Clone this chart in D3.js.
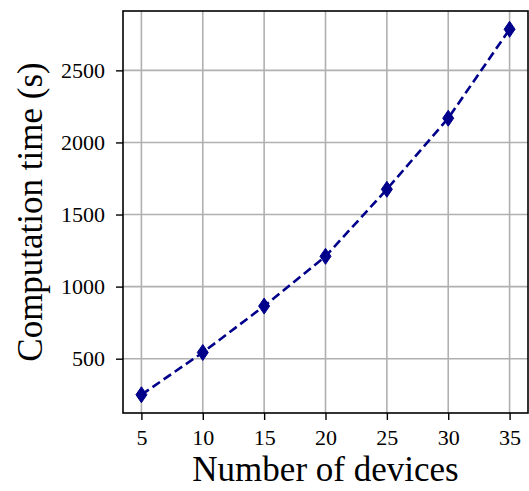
<!DOCTYPE html>
<html>
<head>
<meta charset="utf-8">
<script src="https://cdn.jsdelivr.net/npm/d3@7"></script>
<style>
  body { margin: 0; background: #fff; }
  svg { display: block; }
  svg text { font-family: "Liberation Serif", "Times New Roman", serif; }
</style>
</head>
<body>
<div id="chart"></div>
<script>
// 数据
const devices = [5, 10, 15, 20, 25, 30, 35];
const compTime = [250, 543, 865, 1210, 1675, 2168, 2785];
const xTicks = [5, 10, 15, 20, 25, 30, 35];
const yTicks = [500, 1000, 1500, 2000, 2500];

// 画布设置
const W = 529, H = 491;
const margin = {top: 11, right: 1, bottom: 78, left: 123};
const width = W - margin.left - margin.right,
    height = H - margin.top - margin.bottom;

const svg = d3.select("#chart").append("svg")
    .attr("width", W)
    .attr("height", H);

const g = svg.append("g")
    .attr("transform", `translate(${margin.left},${margin.top})`);

// 比例尺（matplotlib 默认 5% 边距）
const x = d3.scaleLinear().domain([3.5, 36.5]).range([0, width]);
const yMin = d3.min(compTime), yMax = d3.max(compTime);
const pad = (yMax - yMin) * 0.05;
const y = d3.scaleLinear().domain([yMin - pad, yMax + pad]).range([height, 0]);

// 网格
g.append("g").selectAll("line").data(xTicks).join("line")
    .attr("x1", d => x(d)).attr("x2", d => x(d))
    .attr("y1", 0).attr("y2", height)
    .attr("stroke", "#b0b0b0").attr("stroke-width", 1.6);
g.append("g").selectAll("line").data(yTicks).join("line")
    .attr("y1", d => y(d)).attr("y2", d => y(d))
    .attr("x1", 0).attr("x2", width)
    .attr("stroke", "#b0b0b0").attr("stroke-width", 1.6);

// 坐标轴
const xAxis = g.append("g")
    .attr("transform", `translate(0,${height})`)
    .call(d3.axisBottom(x).tickValues(xTicks).tickFormat(d3.format("d"))
        .tickSize(7).tickPadding(9));
const yAxis = g.append("g")
    .call(d3.axisLeft(y).tickValues(yTicks).tickFormat(d3.format("d"))
        .tickSize(7).tickPadding(11));
[xAxis, yAxis].forEach(a => {
    a.attr("font-family", null).attr("font-size", null);
    a.select(".domain").remove();
    a.selectAll(".tick line").attr("stroke", "#000").attr("stroke-width", 1.4);
    a.selectAll(".tick text").attr("fill", "#000").style("font-size", "22px");
});

// 边框
g.append("rect")
    .attr("width", width).attr("height", height)
    .attr("fill", "none").attr("stroke", "#000").attr("stroke-width", 1.6);

// 折线
const data = devices.map((d, i) => ({x: d, y: compTime[i]}));
g.append("path")
    .datum(data)
    .attr("fill", "none")
    .attr("stroke", "#00008b")
    .attr("stroke-width", 2.6)
    .attr("stroke-dasharray", "9,4.5")
    .attr("d", d3.line().x(d => x(d.x)).y(d => y(d.y)));

// 菱形标记
g.append("g").selectAll("path").data(data).join("path")
    .attr("transform", d => `translate(${x(d.x)},${y(d.y)})`)
    .attr("d", "M0,-8L5.5,0L0,8L-5.5,0Z")
    .attr("fill", "#00008b")
    .attr("stroke", "#00008b")
    .attr("stroke-width", 1);

// 轴标题
svg.append("text")
    .attr("x", margin.left + width / 2)
    .attr("y", 481)
    .attr("text-anchor", "middle")
    .style("font-size", "35px")
    .text("Number of devices");

svg.append("text")
    .attr("transform", `translate(42,${margin.top + height / 2}) rotate(-90)`)
    .attr("text-anchor", "middle")
    .style("font-size", "35px")
    .text("Computation time (s)");
</script>
</body>
</html>
